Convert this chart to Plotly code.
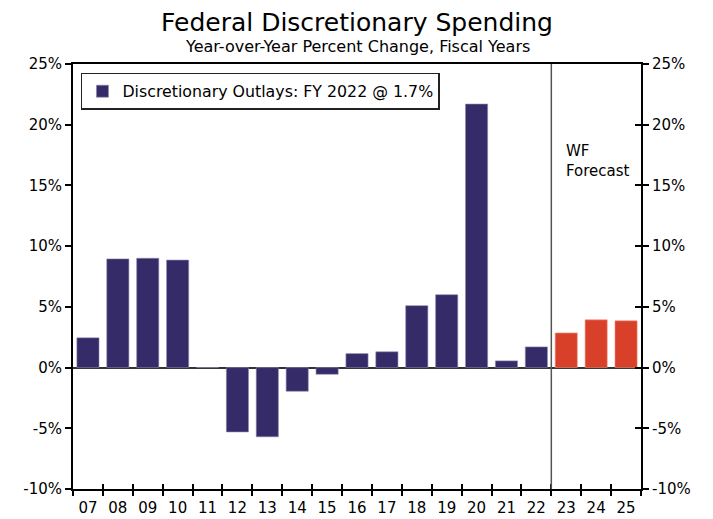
import plotly.graph_objects as go

years = ["07", "08", "09", "10", "11", "12", "13", "14", "15", "16", "17", "18", "19", "20", "21", "22", "23", "24", "25"]
outlays = [2.45, 8.95, 9.0, 8.85, 0.0, -5.3, -5.7, -1.95, -0.55, 1.15, 1.3, 5.1, 6.0, 21.7, 0.55, 1.7, None, None, None]
forecast = [None] * 16 + [2.85, 3.93, 3.85]
yticks = [-10, -5, 0, 5, 10, 15, 20, 25]
yticklabels = [f"{v}%" for v in yticks]

NAVY = "#352B68"
ORANGE = "#D9402A"
FONT = "DejaVu Sans"

fig = go.Figure()
fig.add_trace(go.Bar(x=years, y=outlays, name="Discretionary Outlays: FY 2022 @ 1.7%",
                     marker=dict(color=NAVY, line=dict(color="#8C86AA", width=0.6))))
fig.add_trace(go.Bar(x=years, y=forecast, showlegend=False,
                     marker=dict(color=ORANGE, line=dict(color="#F09080", width=0.6))))
# invisible traces for overlay axes (crossing ticks)
fig.add_trace(go.Scatter(x=years, y=[None] * len(years), xaxis="x2", yaxis="y2",
                         showlegend=False, hoverinfo="skip"))
fig.add_trace(go.Scatter(x=years, y=[None] * len(years), xaxis="x2", yaxis="y3",
                         showlegend=False, hoverinfo="skip"))

yr = [-10, 25]
fig.update_layout(
    width=705, height=511,
    margin=dict(l=65, r=72, t=56, b=30),
    paper_bgcolor="white", plot_bgcolor="white",
    font=dict(family=FONT, color="black", size=15),
    barmode="overlay", bargap=0.26,
    xaxis=dict(type="category", tickson="boundaries", ticks="outside", ticklen=5,
               tickcolor="black", tickwidth=1.5, showline=True, linecolor="black",
               linewidth=2, mirror=True, showgrid=False, automargin=False,
               ticklabelstandoff=4,
               tickfont=dict(size=15), range=[-0.5, 18.5]),
    xaxis2=dict(type="category", overlaying="x", anchor="y", side="bottom",
                tickson="boundaries", ticks="inside", ticklen=5, tickcolor="black",
                tickwidth=1.5, showticklabels=False, showgrid=False, showline=False,
                automargin=False, range=[-0.5, 18.5]),
    yaxis=dict(range=yr, tickvals=yticks, ticktext=yticklabels, ticks="outside",
               ticklen=6, tickcolor="black", tickwidth=1.5, showline=True,
               linecolor="black", linewidth=2, showgrid=False, automargin=False,
               zeroline=True, zerolinecolor="#333333", zerolinewidth=1.5,
               tickfont=dict(size=15)),
    yaxis2=dict(range=yr, tickvals=yticks, ticktext=yticklabels, ticks="outside",
                ticklen=6, tickcolor="black", tickwidth=1.5, showline=True,
                linecolor="black", linewidth=2, side="right", overlaying="y",
                anchor="x", showgrid=False, zeroline=False, automargin=False,
                tickfont=dict(size=15)),
    yaxis3=dict(range=yr, tickvals=yticks, ticks="inside", ticklen=6,
                tickcolor="black", tickwidth=1.5, showticklabels=False,
                side="right", overlaying="y", anchor="x", showgrid=False,
                zeroline=False, showline=False, automargin=False),
    legend=dict(x=0.014, y=0.979, xanchor="left", yanchor="top",
                bgcolor="white", bordercolor="#222222", borderwidth=1.5,
                font=dict(size=15.8, family=FONT), itemwidth=30,
                tracegroupgap=0),
    showlegend=True,
)

fig.add_annotation(text="Federal Discretionary Spending", xref="paper", yref="paper",
                   x=0.5, y=1, yshift=42, xanchor="center", yanchor="middle",
                   showarrow=False, font=dict(size=25, family=FONT))
fig.add_annotation(text="Year-over-Year Percent Change, Fiscal Years", xref="paper",
                   yref="paper", x=0.5, y=1, yshift=18, xanchor="center",
                   yanchor="middle", showarrow=False, font=dict(size=16, family=FONT))

fig.add_shape(type="line", xref="x", yref="paper", x0=15.5, x1=15.5, y0=0, y1=1,
              line=dict(color="#555555", width=1.5))
fig.add_annotation(text="WF<br>Forecast", xref="x", yref="y", x=15.93, y=17.0,
                   xanchor="left", yanchor="middle", align="left", showarrow=False,
                   font=dict(size=15, family=FONT))

fig.write_html("out.html")
